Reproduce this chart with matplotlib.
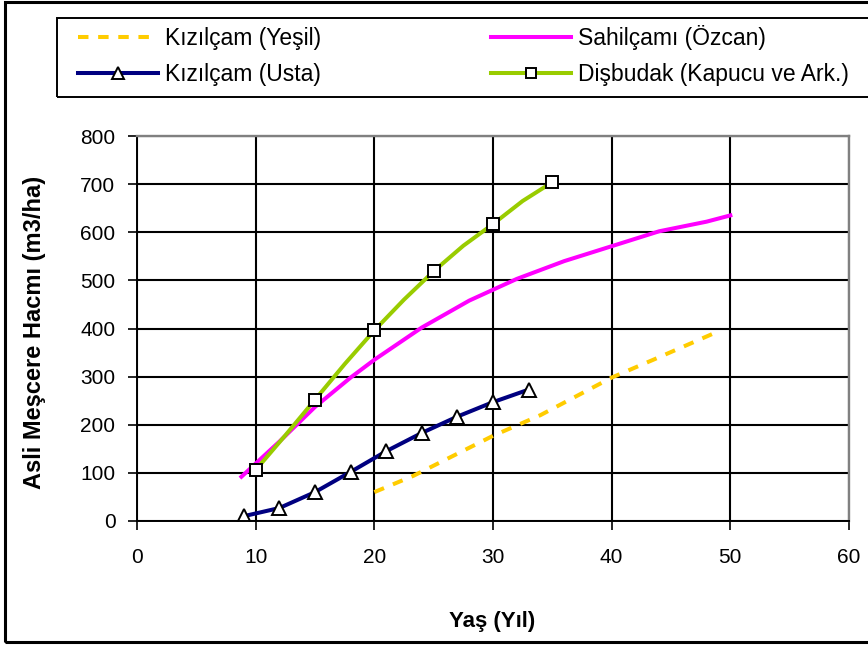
import matplotlib
matplotlib.use("Agg")
import matplotlib.pyplot as plt
from matplotlib.patches import Rectangle

plt.rcParams['font.family'] = ['Liberation Sans', 'DejaVu Sans']

# Kızılçam (Yeşil) – yellow dashed
yesil_age = [20, 23.3, 30, 34, 40, 43.5, 48.8]
yesil_vol = [60, 94, 177, 220, 298, 335, 392]

# Sahilçamı (Özcan) – magenta
sahil_age = [8.8, 12, 15, 18, 20, 24, 28, 32, 36, 40, 44, 48, 50]
sahil_vol = [92, 165, 237, 298, 335, 402, 458, 503, 540, 571, 602, 622, 635]

# Kızılçam (Usta) – navy with triangles
usta_age = [9, 12, 15, 18, 21, 24, 27, 30, 33]
usta_vol = [10, 27, 60, 102, 145, 183, 217, 247, 273]

# Dişbudak (Kapucu ve Ark.) – green with squares on every 5 years
disb_age = [10, 12.5, 15, 17.5, 20, 22.5, 25, 27.5, 30, 32.5, 35]
disb_vol = [106, 178, 252, 326, 396, 460, 519, 572, 617, 665, 704]

labels = ["Kızılçam (Yeşil)", "Kızılçam (Usta)",
          "Sahilçamı (Özcan)", "Dişbudak (Kapucu ve Ark.)"]

x_ticks = [0, 10, 20, 30, 40, 50, 60]
y_ticks = [0, 100, 200, 300, 400, 500, 600, 700, 800]

W, H = 868, 645
fig = plt.figure(figsize=(W / 100, H / 100), dpi=100)
ax = fig.add_axes([137 / W, 1 - 521 / H, (849 - 137) / W, (521 - 136) / H])

lw = 2.9
l_yesil, = ax.plot(yesil_age, yesil_vol, color="#FFCC00", lw=lw,
                   dashes=(2.6, 2.4), dash_capstyle='butt')
l_sahil, = ax.plot(sahil_age, sahil_vol, color="#FF00FF", lw=lw)
l_usta, = ax.plot(usta_age, usta_vol, color="#000080", lw=lw,
                  marker="^", ms=10, mfc="white", mec="black", mew=1.4)
l_disb, = ax.plot(disb_age, disb_vol, color="#99CC00", lw=lw,
                  marker="s", ms=8.5, mfc="white", mec="black", mew=1.4,
                  markevery=2)

ax.set_xlim(0, 60)
ax.set_ylim(0, 800)
ax.set_xticks(x_ticks)
ax.set_yticks(y_ticks)
ax.set_axisbelow(True)
ax.grid(True, color="black", lw=1.5)

for side in ("top", "right"):
    ax.spines[side].set_color("#808080")
    ax.spines[side].set_linewidth(1.7)
for side in ("left", "bottom"):
    ax.spines[side].set_color("black")
    ax.spines[side].set_linewidth(1.4)

ax.tick_params(axis="both", direction="out", length=6.5, width=1.2,
               labelsize=15, colors="black")
ax.tick_params(axis="y", pad=9)
ax.tick_params(axis="x", pad=13)

ax.set_xlabel("Yaş (Yıl)", fontsize=16, fontweight="bold")
ax.set_ylabel("Asli Meşcere Hacmı (m3/ha)", fontsize=17, fontweight="bold")
ax.xaxis.set_label_coords(0.499, -0.235)
ax.yaxis.set_label_coords(-0.128, 0.49)

# outer chart frame and legend frame (both run past the right edge)
fig.patches.append(Rectangle((5 / W, 1 - 642 / H), 1.2, (642 - 2) / H,
                             transform=fig.transFigure, fill=False,
                             edgecolor="black", lw=2.2, zorder=0))
fig.patches.append(Rectangle((57 / W, 1 - 97 / H), 1.2, (97 - 18) / H,
                             transform=fig.transFigure, fill=False,
                             edgecolor="black", lw=1.4, zorder=0))

fig.legend([l_yesil, l_usta, l_sahil, l_disb], labels, ncol=2,
           loc="upper left", bbox_to_anchor=(78 / W, 1 - 25 / H),
           bbox_transform=fig.transFigure, frameon=False,
           fontsize=16.5, handlelength=3.5, handletextpad=0.3,
           columnspacing=7.4, labelspacing=0.55, borderpad=0,
           borderaxespad=0, numpoints=1, markerscale=0.8)

fig.savefig("out.png", dpi=100)
